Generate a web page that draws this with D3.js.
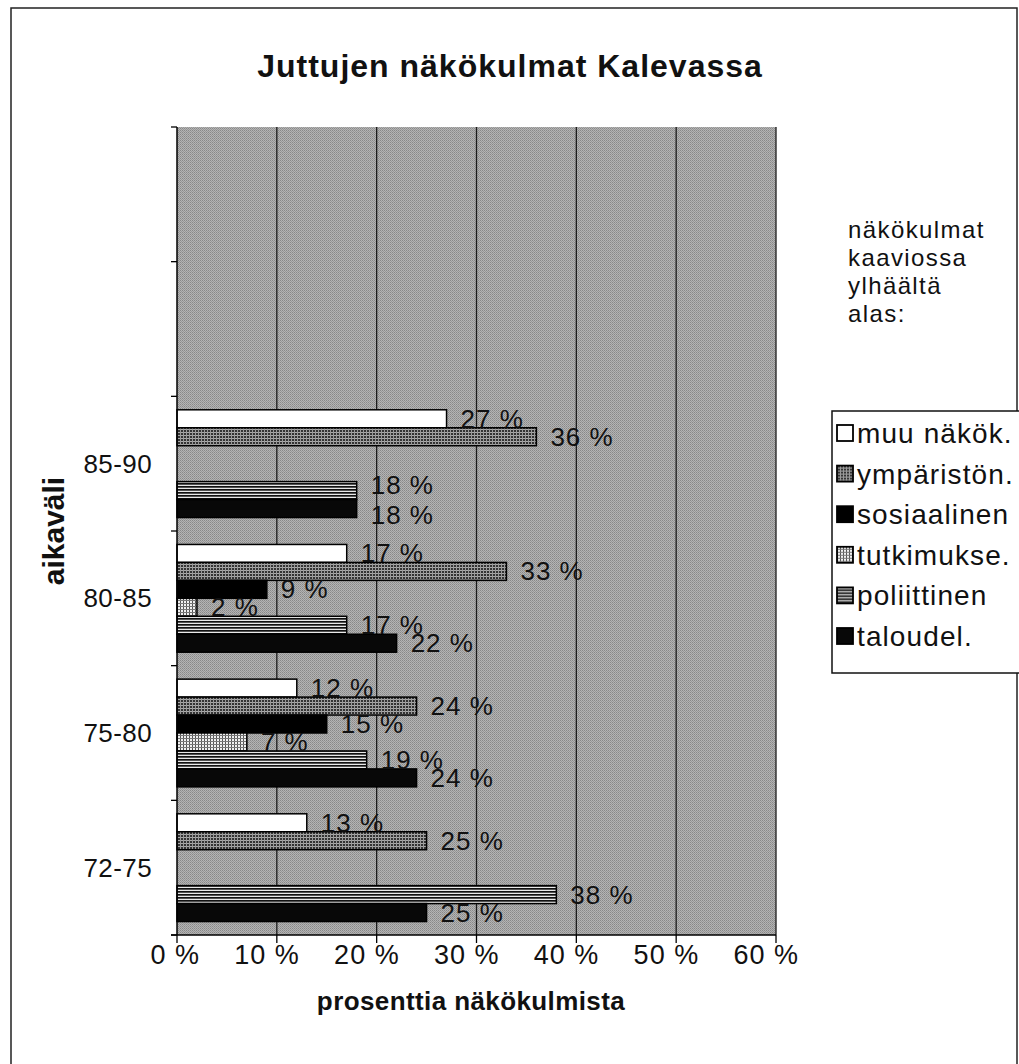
<!DOCTYPE html>
<html>
<head>
<meta charset="utf-8">
<script src="https://cdn.jsdelivr.net/npm/d3@7"></script>
<style>
  html, body { margin: 0; padding: 0; background: #fff; }
  svg { display: block; font-family: "Liberation Sans", Arial, sans-serif; }
</style>
</head>
<body>
<div id="chart"></div>
<script>
// ── Data ──
const title      = "Juttujen näkökulmat Kalevassa";
const xTitle     = "prosenttia näkökulmista";
const yTitle     = "aikaväli";
const categories = ["85-90", "80-85", "75-80", "72-75"];
const emptySlots = ["_a", "_b"];  // two empty category bands above the data
const seriesNames = ["muu näkök.", "ympäristön.", "sosiaalinen", "tutkimukse.", "poliittinen", "taloudel."];
const seriesKeys  = ["muu", "ymp", "sos", "tutk", "pol", "tal"];
const muu  = [27, 17, 12, 13];
const ymp  = [36, 33, 24, 25];
const sos  = [null, 9, 15, null];
const tutk = [null, 2, 7, null];
const pol  = [18, 17, 19, 38];
const tal  = [18, 22, 24, 25];
const xTicks = [0, 10, 20, 30, 40, 50, 60];
const noteLines = ["näkökulmat", "kaaviossa", "ylhäältä", "alas:"];

const values = { muu, ymp, sos, tutk, pol, tal };

const W = 1019, H = 1064;
const PLOT = { left: 177, right: 776, top: 127, bottom: 935 };

const svg = d3.select("#chart").append("svg")
  .attr("width", W)
  .attr("height", H);

// ── Patterns for the bar fills ──
const defs = svg.append("defs");

function pattern(id, w, h, bg, draw) {
  const p = defs.append("pattern")
    .attr("id", id)
    .attr("patternUnits", "userSpaceOnUse")
    .attr("width", w).attr("height", h);
  p.append("rect").attr("width", w).attr("height", h).attr("fill", bg);
  draw(p);
}

pattern("pat-ymp", 3, 3, "#333", p => {
  p.append("rect").attr("width", 3).attr("height", 1).attr("fill", "#aaa");
  p.append("rect").attr("width", 1).attr("height", 3).attr("fill", "#999");
});
pattern("pat-tutk", 3, 3, "#f0f0f0", p => {
  p.append("rect").attr("width", 1).attr("height", 3).attr("fill", "#555");
  p.append("rect").attr("width", 3).attr("height", 1).attr("fill", "#777");
});
pattern("pat-pol", 4, 3, "#e8e8e8", p => {
  p.append("rect").attr("width", 4).attr("height", 1.7).attr("fill", "#111");
});
pattern("pat-bg", 2, 2, "#b4b4b4", p => {
  p.append("rect").attr("width", 1).attr("height", 1).attr("fill", "#888");
  p.append("rect").attr("x", 1).attr("y", 1).attr("width", 1).attr("height", 1).attr("fill", "#979797");
});

const fills = {
  muu: "#ffffff",
  ymp: "url(#pat-ymp)",
  sos: "#000000",
  tutk: "url(#pat-tutk)",
  pol: "url(#pat-pol)",
  tal: "#080808"
};

// ── Outer frame (no bottom edge in the scan) ──
svg.append("path")
  .attr("d", `M11,${H} V8 H1017 V${H}`)
  .attr("fill", "none")
  .attr("stroke", "#222")
  .attr("stroke-width", 1.5);

// ── Scales ──
const x = d3.scaleLinear()
  .domain([0, 60])
  .range([PLOT.left, PLOT.right]);

const y = d3.scaleBand()
  .domain(emptySlots.concat(categories))
  .range([PLOT.top, PLOT.bottom])
  .paddingInner(0)
  .paddingOuter(0);

const bw = y.bandwidth();
const gap = bw * 1.5 / 7.5;   // Excel gap width 150 %
const yInner = d3.scaleBand()
  .domain(seriesKeys)
  .range([gap / 2, bw - gap / 2]);

// ── Plot background + gridlines ──
svg.append("rect")
  .attr("x", PLOT.left).attr("y", PLOT.top)
  .attr("width", PLOT.right - PLOT.left)
  .attr("height", PLOT.bottom - PLOT.top)
  .attr("fill", "url(#pat-bg)");

svg.append("g").attr("class", "grid")
  .selectAll("line")
  .data(xTicks.filter(d => d > 0))
  .join("line")
  .attr("x1", d => x(d)).attr("x2", d => x(d))
  .attr("y1", PLOT.top).attr("y2", PLOT.bottom)
  .attr("stroke", "#1a1a1a")
  .attr("stroke-width", 1.3);

// ── Bars ──
const rows = [];
categories.forEach((c, ci) => {
  seriesKeys.forEach(k => {
    const v = values[k][ci];
    if (v != null) rows.push({ cat: c, key: k, value: v });
  });
});

svg.append("g").attr("class", "bars")
  .selectAll("rect")
  .data(rows)
  .join("rect")
  .attr("x", x(0))
  .attr("y", d => y(d.cat) + yInner(d.key))
  .attr("width", d => x(d.value) - x(0))
  .attr("height", yInner.bandwidth())
  .attr("fill", d => fills[d.key])
  .attr("stroke", "#000")
  .attr("stroke-width", 1.5);

// ── Data labels (nudge a label down when it sits right on top of the previous one) ──
const LABEL_W = 63, MIN_DY = 30;
rows.forEach((d, i) => {
  d.lx = x(d.value) + 14;
  d.ly = y(d.cat) + yInner(d.key) + yInner.bandwidth() / 2;
  const prev = rows[i - 1];
  if (prev && prev.cat === d.cat && Math.abs(prev.lx - d.lx) < LABEL_W / 2 && d.ly - prev.ly < MIN_DY) {
    const shift = (MIN_DY - (d.ly - prev.ly)) / 2;
    prev.ly -= shift;
    d.ly += shift;
  }
});

svg.append("g").attr("class", "labels")
  .selectAll("text")
  .data(rows)
  .join("text")
  .attr("x", d => d.lx)
  .attr("y", d => d.ly + 9)
  .style("font-size", "26px")
  .style("letter-spacing", "1px")
  .attr("fill", "#111")
  .text(d => `${d.value} %`);

// ── Y axis (ticks between categories) ──
const yAxisG = svg.append("g").attr("class", "y-axis");
yAxisG.append("line")
  .attr("x1", PLOT.left).attr("x2", PLOT.left)
  .attr("y1", PLOT.top).attr("y2", PLOT.bottom)
  .attr("stroke", "#000").attr("stroke-width", 1.5);

const bounds = y.domain().map(d => y(d)).concat([PLOT.bottom]);
yAxisG.selectAll("line.tick")
  .data(bounds)
  .join("line")
  .attr("class", "tick")
  .attr("x1", PLOT.left - 6).attr("x2", PLOT.left)
  .attr("y1", d => d).attr("y2", d => d)
  .attr("stroke", "#000").attr("stroke-width", 1.3);

yAxisG.selectAll("text")
  .data(categories)
  .join("text")
  .attr("x", 152)
  .attr("y", d => y(d) + bw / 2 + 9)
  .attr("text-anchor", "end")
  .style("font-size", "26px")
  .style("letter-spacing", "0.4px")
  .attr("fill", "#111")
  .text(d => d);

// ── X axis ──
const xAxisG = svg.append("g").attr("class", "x-axis");
xAxisG.append("line")
  .attr("x1", PLOT.left - 6).attr("x2", PLOT.right)
  .attr("y1", PLOT.bottom).attr("y2", PLOT.bottom)
  .attr("stroke", "#000").attr("stroke-width", 1.3);

xAxisG.selectAll("line.tick")
  .data(xTicks)
  .join("line")
  .attr("class", "tick")
  .attr("x1", d => x(d)).attr("x2", d => x(d))
  .attr("y1", PLOT.bottom).attr("y2", PLOT.bottom + 8)
  .attr("stroke", "#000").attr("stroke-width", 1.3);

// labels end a little to the right of their tick, as in the scan
xAxisG.selectAll("text")
  .data(xTicks)
  .join("text")
  .attr("x", d => x(d) + 23)
  .attr("y", 964)
  .attr("text-anchor", "end")
  .style("font-size", "27px")
  .style("letter-spacing", "1px")
  .attr("fill", "#111")
  .text(d => `${d} %`);

// ── Titles ──
svg.append("text")
  .attr("x", 510).attr("y", 77)
  .attr("text-anchor", "middle")
  .style("font-size", "32px")
  .style("font-weight", "bold")
  .style("letter-spacing", "1px")
  .attr("fill", "#111")
  .text(title);

svg.append("text")
  .attr("x", 471).attr("y", 1010)
  .attr("text-anchor", "middle")
  .style("font-size", "26px")
  .style("font-weight", "bold")
  .style("letter-spacing", "0.4px")
  .attr("fill", "#111")
  .text(xTitle);

svg.append("text")
  .attr("transform", `translate(64,${(PLOT.top + PLOT.bottom) / 2}) rotate(-90)`)
  .attr("text-anchor", "middle")
  .style("font-size", "30px")
  .style("font-weight", "bold")
  .attr("fill", "#111")
  .text(yTitle);

// ── Note text ──
svg.append("g").attr("class", "note")
  .selectAll("text")
  .data(noteLines)
  .join("text")
  .attr("x", 848)
  .attr("y", (d, i) => 238 + i * 28)
  .style("font-size", "24px")
  .style("letter-spacing", "1.4px")
  .attr("fill", "#111")
  .text(d => d);

// ── Legend ──
const LEG = { x: 832, y: 411, h: 262, step: 40.6, first: 433 };
const legG = svg.append("g").attr("class", "legend");
legG.append("rect")
  .attr("x", LEG.x).attr("y", LEG.y)
  .attr("width", W - LEG.x + 10).attr("height", LEG.h)
  .attr("fill", "#fff")
  .attr("stroke", "#111").attr("stroke-width", 1.5);

const items = legG.selectAll("g.item")
  .data(seriesKeys)
  .join("g")
  .attr("class", "item")
  .attr("transform", (d, i) => `translate(${LEG.x + 5},${LEG.first + i * LEG.step})`);

items.append("rect")
  .attr("x", 0).attr("y", -8)
  .attr("width", 16).attr("height", 16)
  .attr("fill", d => fills[d])
  .attr("stroke", "#000").attr("stroke-width", 1.8);

items.append("text")
  .attr("x", 20).attr("y", 10)
  .style("font-size", "28px")
  .style("letter-spacing", "1.1px")
  .attr("fill", "#111")
  .text((d, i) => seriesNames[i]);
</script>
</body>
</html>
